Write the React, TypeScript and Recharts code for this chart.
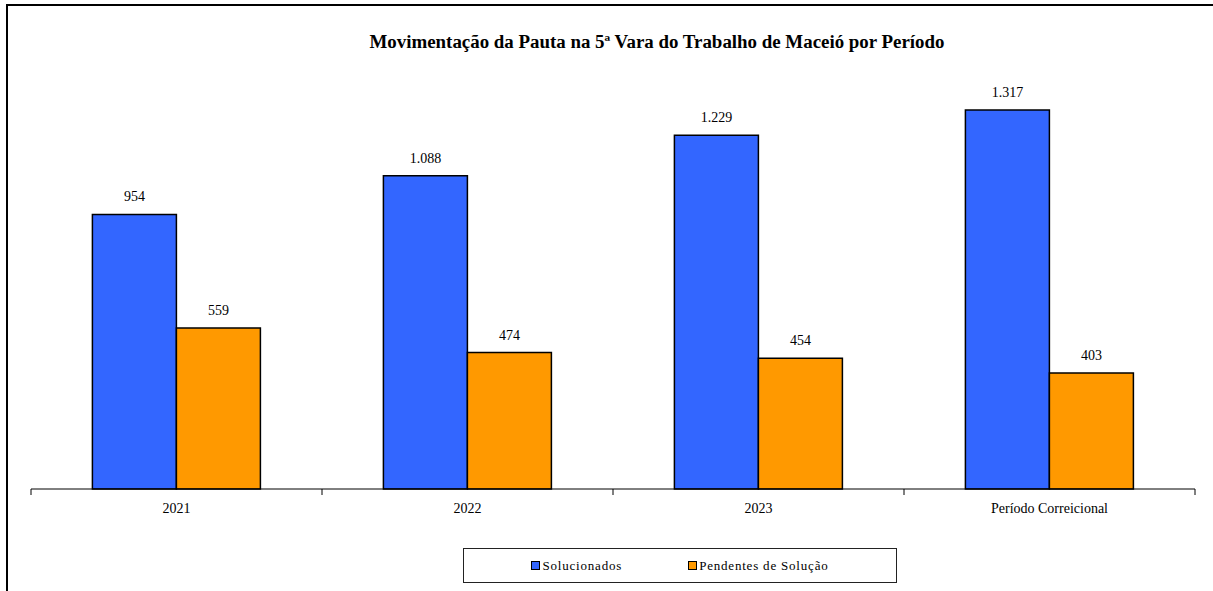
import { BarChart, Bar, XAxis, YAxis, LabelList } from 'recharts'

const periodos = ['2021', '2022', '2023', 'Período Correicional']
const solucionados = [954, 1088, 1229, 1317]
const pendentes = [559, 474, 454, 403]

const SERIES = [
  { key: 'solucionados', name: 'Solucionados', color: '#3366FF' },
  { key: 'pendentes', name: 'Pendentes de Solução', color: '#FF9900' },
]

const data = periodos.map((p, i) => ({
  periodo: p,
  solucionados: solucionados[i],
  pendentes: pendentes[i],
}))

const W = 1213
const H = 591
const AXIS_H = 30
// eixo x em y=489
const M = { top: 86, right: 18, bottom: 102 - AXIS_H, left: 31 }
const FONT = '"Liberation Serif", "Times New Roman", serif'

// formato pt-BR: 1.088
const fmt = (v: number) => String(v).replace(/\B(?=(\d{3})+(?!\d))/g, '.')

// rótulo do eixo + marcas nas divisas entre categorias
function PeriodTick(props: any) {
  const { x, y, payload, index, visibleTicksCount } = props
  const band = (W - M.left - M.right) / periodos.length
  const count = visibleTicksCount ?? periodos.length
  return (
    <g>
      <line x1={x - band / 2} x2={x - band / 2} y1={y} y2={y + 6} stroke="#000" />
      {index === count - 1 && (
        <line x1={x + band / 2} x2={x + band / 2} y1={y} y2={y + 6} stroke="#000" />
      )}
      <text x={x} y={y + 24} textAnchor="middle" fontFamily={FONT} fontSize={14} fill="#000">
        {payload.value}
      </text>
    </g>
  )
}

function LegendBox() {
  return (
    <div
      style={{
        position: 'absolute',
        left: 463,
        top: 548,
        boxSizing: 'border-box',
        width: 434,
        height: 35,
        border: '1px solid #222',
        display: 'flex',
        alignItems: 'center',
        justifyContent: 'center',
        gap: 66,
        fontFamily: FONT,
        fontSize: 13,
        letterSpacing: 0.8,
        color: '#000',
      }}
    >
      {SERIES.map((s) => (
        <span key={s.key} style={{ display: 'flex', alignItems: 'center' }}>
          <span
            style={{
              display: 'inline-block',
              width: 7,
              height: 7,
              background: s.color,
              border: '1.5px solid #000',
              marginRight: 2,
            }}
          />
          {s.name}
        </span>
      ))}
    </div>
  )
}

export default function App() {
  return (
    <div style={{ position: 'absolute', left: 0, top: 0, width: W, height: H, background: '#fff', overflow: 'hidden' }}>
      {/* moldura */}
      <div
        style={{
          position: 'absolute',
          left: 6,
          top: 4,
          width: W,
          height: H,
          borderTop: '2px solid #000',
          borderLeft: '2px solid #000',
        }}
      />
      <svg style={{ position: 'absolute', left: 0, top: 0 }} width={W} height={60}>
        <text
          x={657}
          y={48}
          textAnchor="middle"
          fontFamily={FONT}
          fontWeight="bold"
          fontSize={18}
          textLength={575}
          lengthAdjust="spacingAndGlyphs"
          fill="#000"
        >
          Movimentação da Pauta na 5ª Vara do Trabalho de Maceió por Período
        </text>
      </svg>
      <BarChart
        width={W}
        height={H}
        data={data}
        margin={M}
        barCategoryGap="21.1%"
        barGap={0}
        style={{ position: 'absolute', left: 0, top: 0 }}
      >
        <XAxis
          dataKey="periodo"
          height={AXIS_H}
          axisLine={{ stroke: '#000' }}
          tickLine={false}
          tickSize={0}
          tickMargin={0}
          interval={0}
          tick={<PeriodTick />}
        />
        <YAxis hide domain={[0, 1400]} />
        {SERIES.map((s) => (
          <Bar
            key={s.key}
            dataKey={s.key}
            name={s.name}
            fill={s.color}
            stroke="#000"
            strokeWidth={1.5}
            isAnimationActive={false}
          >
            <LabelList
              dataKey={s.key}
              position="top"
              offset={13}
              formatter={(v: any) => fmt(Number(v))}
              style={{ fontFamily: FONT, fontSize: 14, fill: '#000' }}
            />
          </Bar>
        ))}
      </BarChart>
      <LegendBox />
    </div>
  )
}
